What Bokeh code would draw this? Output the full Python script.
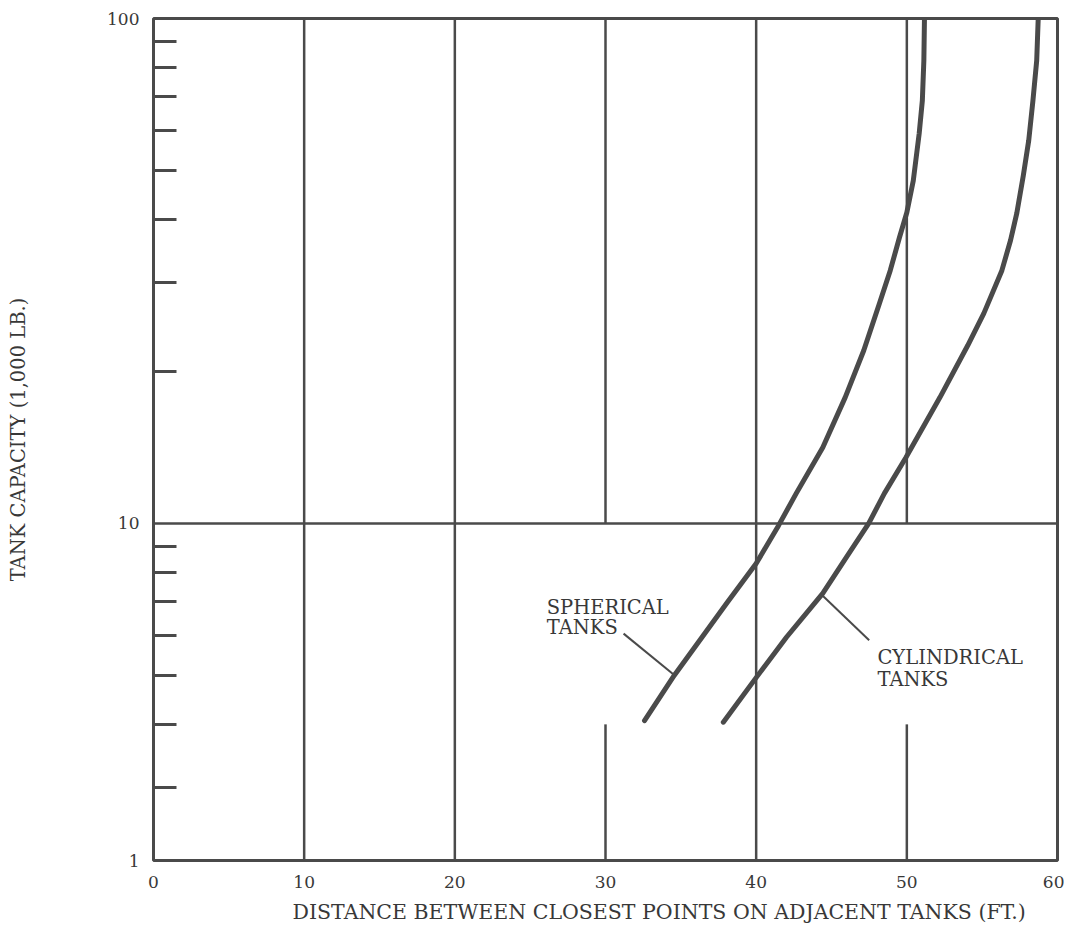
from bokeh.plotting import figure
from bokeh.models import FixedTicker, Range1d, Title
from bokeh.embed import file_html
from bokeh.resources import INLINE
from bokeh.core.properties import value

# ---------------- data ----------------
spherical_x = [32.59, 34.56, 36.26, 38.03, 40.0, 41.49, 42.66, 44.42, 45.91, 47.14, 48.18, 48.90,
               49.51, 50.0, 50.43, 50.82, 51.03, 51.13, 51.17]
spherical_y = [4.07, 5.00, 5.87, 6.94, 8.33, 9.91, 11.47, 14.14, 17.77, 22.0, 27.27, 31.70,
               36.83, 41.28, 47.76, 59.18, 68.81, 82.56, 100]

cylindrical_x = [37.82, 40.0, 42.01, 44.42, 45.94, 47.47, 48.51, 49.94, 52.2, 54.04, 55.11, 56.31,
                 56.88, 57.30, 57.73, 58.09, 58.37, 58.62, 58.72]
cylindrical_y = [4.04, 4.95, 5.95, 7.27, 8.53, 10.0, 11.47, 13.51, 17.77, 22.51, 26.06, 31.70,
                 36.34, 41.16, 48.86, 57.33, 68.81, 82.56, 100]

x_ticks = [0, 10, 20, 30, 40, 50, 60]
x_tick_labels = ["0", "10", "20", "30", "40", "50", "60"]
y_bottom = 2.15          # value at the bottom edge of the drawn grid (labelled "1" in the original)
y_top = 100
y_major = [y_bottom, 10, 100]
y_major_labels = ["1", "10", "100"]
y_minor = [3, 4, 5, 6, 7, 8, 9, 20, 30, 40, 50, 60, 70, 80, 90]

# vertical grid segments (x, from, to)
grid_x = [10, 20, 40, 30, 50, 30, 50]
grid_y0 = [y_bottom, y_bottom, y_bottom, 10, 10, y_bottom, y_bottom]
grid_y1 = [100, 100, 100, 100, 100, 4, 4]
hline_y = [10]

# callout leader lines
sph_leader_x = [31.2, 34.6]
sph_leader_y = [6.05, 5.0]
cyl_leader_x = [44.4, 47.5]
cyl_leader_y = [7.2, 5.87]

labels_text = ["SPHERICAL", "TANKS", "CYLINDRICAL", "TANKS"]
x_title = "DISTANCE BETWEEN CLOSEST POINTS ON ADJACENT TANKS (FT.)"
y_title = "TANK CAPACITY (1,000 LB.)"

# ---------------- styling / layout ----------------
INK = "#4a4a4a"
TXT = "#383838"
FONT = "DejaVu Serif"

p = figure(width=1064, height=933, output_backend="svg", toolbar_location=None,
           x_range=Range1d(0, 60), y_range=Range1d(y_bottom, y_top),
           y_axis_type="log", min_border_left=153, min_border_top=18,
           min_border_right=7, min_border_bottom=73)

p.xgrid.visible = False
p.ygrid.visible = False
p.outline_line_color = INK
p.outline_line_width = 3
p.background_fill_color = "white"
p.border_fill_color = "white"

# verticals and the horizontal at 10
p.segment(x0=grid_x, y0=grid_y0, x1=grid_x, y1=grid_y1, line_color=INK, line_width=2.5)
p.segment(x0=[0] * len(hline_y), y0=hline_y, x1=[60] * len(hline_y), y1=hline_y,
          line_color=INK, line_width=2.5)

# curves
p.line(spherical_x, spherical_y, line_color=INK, line_width=5, line_cap="round", line_join="round")
p.line(cylindrical_x, cylindrical_y, line_color=INK, line_width=5, line_cap="round", line_join="round")

# leaders
p.line(sph_leader_x, sph_leader_y, line_color=INK, line_width=2)
p.line(cyl_leader_x, cyl_leader_y, line_color=INK, line_width=2)

# labels
lab_x = [26.1, 26.1, 48.05, 48.05]
lab_y = [6.82, 6.22, 5.43, 4.91]
p.text(x=lab_x, y=lab_y, text=labels_text, text_font=value(FONT), text_font_size="19.5px",
       text_color=TXT, text_baseline="alphabetic", text_align="left")

# x axis
xa = p.xaxis[0]
xa.ticker = FixedTicker(ticks=x_ticks)
xa.major_label_overrides = dict(zip(x_ticks, x_tick_labels))
xa.axis_line_color = None
xa.major_tick_in = 0
xa.major_tick_out = 0
xa.minor_tick_line_color = None
xa.major_label_standoff = 15
xa.major_label_text_font = FONT
xa.major_label_text_font_size = "17px"
xa.major_label_text_color = TXT

xt = Title(text=x_title, align="left", offset=139, standoff=15,
           text_font=FONT, text_font_size="20.5px", text_font_style="normal",
           text_color=TXT)
p.add_layout(xt, "below")

# y axis
ya = p.yaxis[0]
ya.ticker = FixedTicker(ticks=y_major, minor_ticks=y_minor)
ya.major_label_overrides = dict(zip(y_major, y_major_labels))
ya.axis_line_color = None
ya.major_tick_in = 0
ya.major_tick_out = 0
ya.minor_tick_in = 23
ya.minor_tick_out = 0
ya.minor_tick_line_color = INK
ya.minor_tick_line_width = 3
ya.major_label_standoff = 14
ya.major_label_text_font = FONT
ya.major_label_text_font_size = "17px"
ya.major_label_text_color = TXT
ya.axis_label = y_title
ya.axis_label_text_font = FONT
ya.axis_label_text_font_size = "19.5px"
ya.axis_label_text_font_style = "normal"
ya.axis_label_text_color = TXT
ya.axis_label_standoff = 74

open("out.html", "w").write(file_html(p, INLINE))
